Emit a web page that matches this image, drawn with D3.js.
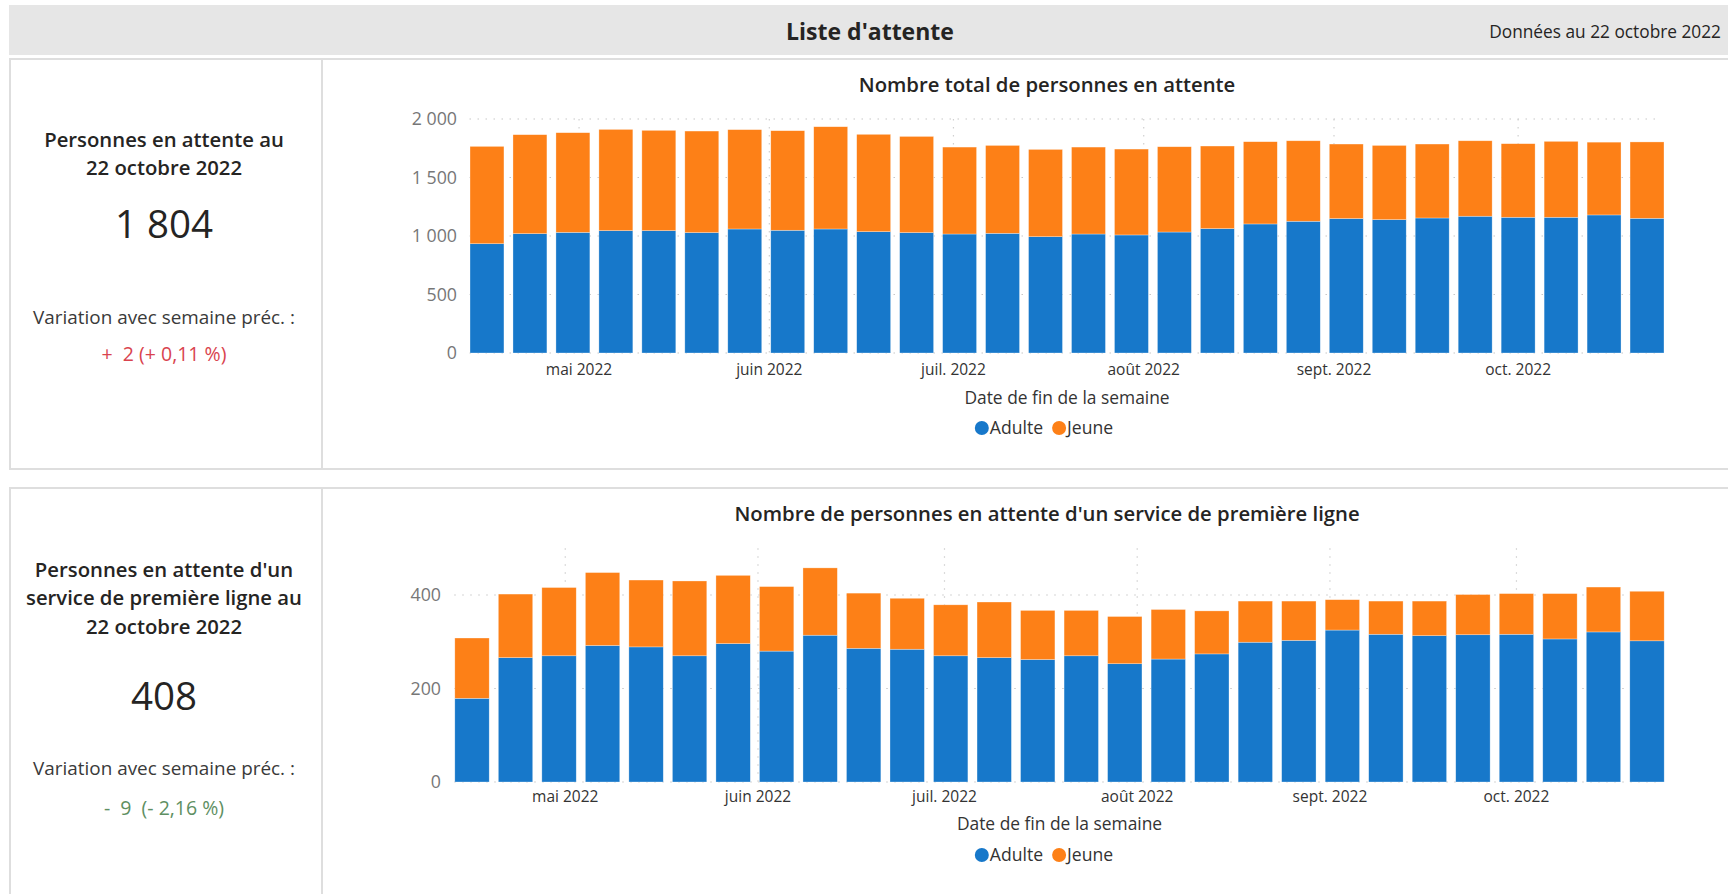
<!DOCTYPE html>
<html>
<head>
<meta charset="utf-8">
<script src="https://cdn.jsdelivr.net/npm/d3@7"></script>
<style>
    body { margin: 0; background: #fff; }
    svg text { font-family: "Open Sans", "Noto Sans", sans-serif; }
</style>
</head>
<body>
<script>
(function() {
    // data : semaines (date de fin)
    var semaines = ["2022-04-16", "2022-04-23", "2022-04-30", "2022-05-07", "2022-05-14", "2022-05-21", "2022-05-28",
                    "2022-06-04", "2022-06-11", "2022-06-18", "2022-06-25", "2022-07-02", "2022-07-09", "2022-07-16",
                    "2022-07-23", "2022-07-30", "2022-08-06", "2022-08-13", "2022-08-20", "2022-08-27", "2022-09-03",
                    "2022-09-10", "2022-09-17", "2022-09-24", "2022-10-01", "2022-10-08", "2022-10-15", "2022-10-22"];
    var totalAdulte = [934, 1020, 1031, 1046, 1046, 1029, 1060, 1049, 1060, 1037, 1029, 1017, 1023, 994,
                       1017, 1009, 1034, 1063, 1103, 1126, 1149, 1140, 1154, 1169, 1160, 1160, 1180, 1151];
    var totalJeune  = [832, 846, 852, 865, 857, 868, 849, 851, 874, 832, 822, 743, 751, 746,
                       743, 734, 729, 706, 703, 688, 637, 634, 632, 645, 629, 649, 622, 653];
    var premAdulte  = [179, 266, 270, 292, 289, 270, 296, 280, 314, 286, 284, 270, 266, 262,
                       270, 253, 263, 274, 299, 303, 325, 316, 313, 315, 316, 306, 321, 302];
    var premJeune   = [129, 136, 146, 156, 143, 160, 146, 138, 144, 118, 109, 109, 119, 105,
                       97, 101, 106, 92, 88, 84, 65, 71, 74, 86, 87, 97, 96, 106];
    var series = ["Adulte", "Jeune"];
    var couleurs = ["#1778ca", "#fd8017"];
    var ticksTotal = [0, 500, 1000, 1500, 2000];
    var ticksPrem = [0, 200, 400];
    var moisCourts = ["janv.", "févr.", "mars", "avr.", "mai", "juin", "juil.", "août", "sept.", "oct.", "nov.", "déc."];

    // locales fr
    var fr = d3.formatLocale({ decimal: ",", thousands: "\u00a0", grouping: [3], currency: ["", " $"] });
    var frTime = d3.timeFormatLocale({
        dateTime: "%A %e %B %Y", date: "%d/%m/%Y", time: "%H:%M:%S", periods: ["AM", "PM"],
        days: ["dimanche", "lundi", "mardi", "mercredi", "jeudi", "vendredi", "samedi"],
        shortDays: ["dim.", "lun.", "mar.", "mer.", "jeu.", "ven.", "sam."],
        months: ["janvier", "février", "mars", "avril", "mai", "juin", "juillet", "août", "septembre", "octobre", "novembre", "décembre"],
        shortMonths: moisCourts
    });
    var fmtNombre = fr.format(",d");
    var fmtMois = frTime.format("%b %Y");
    var parse = d3.timeParse("%Y-%m-%d");
    var dates = semaines.map(parse);

    var svg = d3.select("body").append("svg")
        .attr("width", 1728)
        .attr("height", 894);

    // bandeau titre
    svg.append("rect").attr("x", 9).attr("y", 5).attr("width", 1719).attr("height", 50).attr("fill", "#e6e6e6");
    svg.append("text").attr("x", 870).attr("y", 32).attr("dy", "0.35em")
        .attr("text-anchor", "middle").attr("font-size", 23).attr("font-weight", 700).attr("fill", "#252423")
        .text("Liste d'attente");
    svg.append("text").attr("x", 1721).attr("y", 32).attr("dy", "0.35em")
        .attr("text-anchor", "end").attr("font-size", 17.3).attr("fill", "#252423")
        .text("Données au 22 octobre 2022");

    // panneaux
    panel(59, 410);
    panel(488, 420);

    function panel(y, h) {
        svg.append("rect").attr("x", 10).attr("y", y).attr("width", 1730).attr("height", h)
            .attr("fill", "none").attr("stroke", "#dedede").attr("stroke-width", 2);
        svg.append("line").attr("x1", 322).attr("x2", 322).attr("y1", y).attr("y2", y + h)
            .attr("stroke", "#dedede").attr("stroke-width", 2);
    }

    // cartes
    card({
        lines: [[140, "Personnes en attente au"], [168, "22 octobre 2022"]],
        valeur: 1804, valeurY: 225, varY: 317, deltaY: 354,
        delta: "+  2 (+ 0,11 %)", deltaColor: "#d9434e"
    });
    card({
        lines: [[570, "Personnes en attente d'un"], [598, "service de première ligne au"], [627, "22 octobre 2022"]],
        valeur: 408, valeurY: 697, varY: 768, deltaY: 808,
        delta: "-  9  (- 2,16 %)", deltaColor: "#5e8f62"
    });

    function card(c) {
        var cx = 164;
        c.lines.forEach(function(l) {
            svg.append("text").attr("x", cx).attr("y", l[0]).attr("dy", "0.35em").attr("text-anchor", "middle")
                .attr("font-size", 20.3).attr("font-weight", 600).attr("fill", "#252423").text(l[1]);
        });
        svg.append("text").attr("x", cx).attr("y", c.valeurY).attr("dy", "0.35em").attr("text-anchor", "middle")
            .attr("font-size", 38.5).attr("fill", "#252423").text(fmtNombre(c.valeur));
        svg.append("text").attr("x", cx).attr("y", c.varY).attr("dy", "0.35em").attr("text-anchor", "middle")
            .attr("font-size", 18.9).attr("fill", "#3a3a3a").text("Variation avec semaine préc. :");
        svg.append("text").attr("x", cx).attr("y", c.deltaY).attr("dy", "0.35em").attr("text-anchor", "middle")
            .attr("font-size", 19.5).attr("fill", c.deltaColor).attr("xml:space", "preserve")
            .style("white-space", "pre").text(c.delta);
    }

    // graphiques
    chart({
        titre: "Nombre total de personnes en attente", titreY: 85,
        adultes: totalAdulte, jeunes: totalJeune,
        xRange: [465.5, 1668.5], yRange: [353, 119], yMax: 2000, ticks: ticksTotal, labelX: 457,
        xLabelY: 370, axisTitleY: 398, legendY: 428
    });
    chart({
        titre: "Nombre de personnes en attente d'un service de première ligne", titreY: 514,
        adultes: premAdulte, jeunes: premJeune,
        xRange: [450.25, 1668.75], yRange: [782, 548.25], yMax: 500, ticks: ticksPrem, labelX: 441,
        xLabelY: 797, axisTitleY: 824, legendY: 855
    });

    function chart(o) {
        var g = svg.append("g");
        var demiSemaine = 3.5 * 864e5;
        var x = d3.scaleTime()
            .domain([new Date(dates[0].getTime() - demiSemaine), new Date(dates[dates.length - 1].getTime() + demiSemaine)])
            .range(o.xRange);
        var y = d3.scaleLinear().domain([0, o.yMax]).range(o.yRange);
        var pas = x(new Date(dates[0].getTime() + 2 * demiSemaine)) - x(dates[0]);
        var largeur = pas * 0.79;

        // titre
        g.append("text").attr("x", 1047).attr("y", o.titreY).attr("dy", "0.35em").attr("text-anchor", "middle")
            .attr("font-size", 20.3).attr("font-weight", 600).attr("fill", "#252423").text(o.titre);

        // grille
        var gx0 = o.xRange[0] + 4, gx1 = o.xRange[1] - 10;
        g.selectAll(".hgrid").data(o.ticks).enter().append("line")
            .attr("x1", gx0).attr("x2", gx1)
            .attr("y1", function(d) { return y(d); }).attr("y2", function(d) { return y(d); })
            .attr("stroke", "#c8c8c8").attr("stroke-width", 1.2).attr("stroke-dasharray", "1.5,6.5");
        var mois = x.ticks(d3.timeMonth.every(1));
        g.selectAll(".vgrid").data(mois).enter().append("line")
            .attr("x1", function(d) { return x(d); }).attr("x2", function(d) { return x(d); })
            .attr("y1", y(o.yMax)).attr("y2", y(0))
            .attr("stroke", "#d0d0d0").attr("stroke-width", 1.2).attr("stroke-dasharray", "1.5,6.5");

        // axe y
        g.selectAll(".ylab").data(o.ticks).enter().append("text")
            .attr("x", o.labelX).attr("y", function(d) { return y(d); }).attr("dy", "0.35em")
            .attr("text-anchor", "end").attr("font-size", 17.8).attr("fill", "#777")
            .text(function(d) { return fmtNombre(d); });

        // axe x
        g.selectAll(".xlab").data(mois).enter().append("text")
            .attr("x", function(d) { return x(d); }).attr("y", o.xLabelY).attr("dy", "0.35em")
            .attr("text-anchor", "middle").attr("font-size", 15.5).attr("fill", "#333")
            .text(function(d) { return fmtMois(d); });
        var cx = (o.xRange[0] + o.xRange[1]) / 2;
        g.append("text").attr("x", cx).attr("y", o.axisTitleY).attr("dy", "0.35em")
            .attr("text-anchor", "middle").attr("font-size", 17.4).attr("fill", "#333")
            .text("Date de fin de la semaine");

        // barres empilees
        var rows = dates.map(function(d, i) { return { date: d, Adulte: o.adultes[i], Jeune: o.jeunes[i] }; });
        var stack = d3.stack().keys(series)(rows);
        g.selectAll(".serie").data(stack).enter().append("g")
            .attr("fill", function(d, i) { return couleurs[i]; })
            .selectAll("rect").data(function(d) { return d; }).enter().append("rect")
            .attr("x", function(d) { return x(d.data.date) - largeur / 2; })
            .attr("width", largeur)
            .attr("y", function(d) { return y(d[1]); })
            .attr("height", function(d) { return y(d[0]) - y(d[1]); })
            .attr("stroke", "#fff").attr("stroke-opacity", 0.5).attr("stroke-width", 0.6);

        // legende
        var leg = g.append("g");
        var pos = 0;
        series.forEach(function(s, i) {
            leg.append("circle").attr("cx", pos + 7).attr("cy", 0).attr("r", 7).attr("fill", couleurs[i]);
            var t = leg.append("text").attr("x", pos + 15).attr("y", 0).attr("dy", "0.35em")
                .attr("font-size", 17.6).attr("fill", "#333").text(s);
            pos += 15 + t.node().getComputedTextLength() + 9;
        });
        pos -= 9;
        leg.attr("transform", "translate(" + (1044 - pos / 2) + "," + o.legendY + ")");
    }
})();
</script>
</body>
</html>
